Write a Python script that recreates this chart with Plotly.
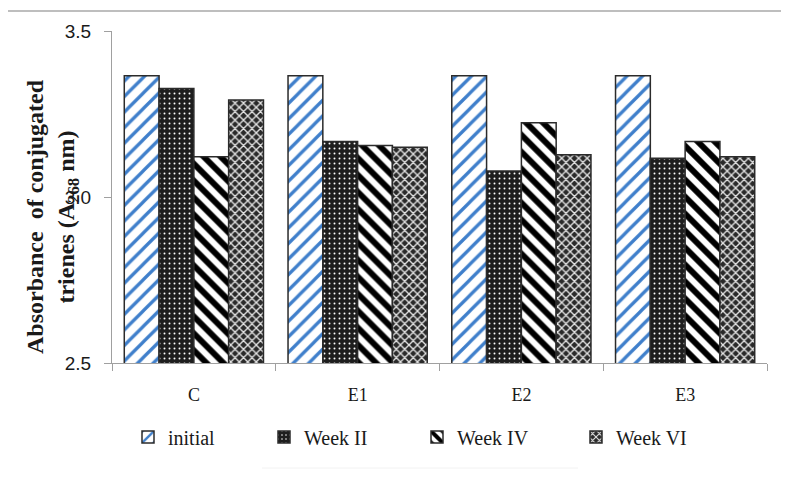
import plotly.graph_objects as go

categories = ["C", "E1", "E2", "E3"]
initial = [3.365, 3.365, 3.365, 3.365]
week_ii = [3.327, 3.167, 3.078, 3.117]
week_iv = [3.121, 3.155, 3.224, 3.167]
week_vi = [3.292, 3.150, 3.127, 3.121]
series_names = ["initial", "Week II", "Week IV", "Week VI"]
y_ticks = [2.5, 3.0, 3.5]

# page body adds an 8px offset; work in reference pixel coords and shift
OFF = 8
W, H = 789, 478
L, R, T, B = 112 - OFF, 22 + OFF, 31 - OFF, 115 + OFF
pw, ph = W - L - R, H - T - B


def px(x):
    return (x - OFF - L) / pw


def py(y):
    return (H - B - (y - OFF)) / ph


line = dict(color="#2b2b2b", width=1.5)
patterns = [
    dict(shape="/", fgcolor="#3f7fcb", bgcolor="white", size=11, solidity=0.3, fillmode="replace"),
    dict(shape=".", fgcolor="white", bgcolor="#1e1e1e", size=5, solidity=0.12, fillmode="replace"),
    dict(shape="\\", fgcolor="black", bgcolor="white", size=12, solidity=0.5, fillmode="replace"),
    dict(shape="x", fgcolor="#e4e4e4", bgcolor="#2a2a2a", size=6, solidity=0.4, fillmode="replace"),
]
values = [initial, week_ii, week_iv, week_vi]

fig = go.Figure()
legend_ids = ["legend2", "legend3", "legend4", "legend5"]
for name, vals, pat, lid in zip(series_names, values, patterns, legend_ids):
    fig.add_trace(go.Bar(
        x=categories, y=vals, name=name,
        marker=dict(color="white", pattern=pat, line=line),
        legend=lid,
    ))

legend_text_x = [168, 304, 457, 616]
leg_font = dict(family="Liberation Serif", size=20, color="#1a1a1a")
layout_legends = {}
for lid, tx in zip(legend_ids, legend_text_x):
    layout_legends[lid] = dict(
        x=px(tx - 40), y=py(437), xanchor="left", yanchor="middle",
        orientation="h", font=leg_font, bgcolor="rgba(0,0,0,0)",
        itemwidth=30, tracegroupgap=0,
    )

fig.update_layout(
    width=W, height=H,
    margin=dict(l=L, r=R, t=T, b=B, autoexpand=False),
    paper_bgcolor="white", plot_bgcolor="white",
    barmode="group", bargap=0.15, bargroupgap=0,
    showlegend=True,
    **layout_legends,
    xaxis=dict(
        showline=True, linecolor="#a0a0a0", linewidth=1.3,
        ticks="outside", tickson="boundaries", ticklen=7, tickcolor="#a0a0a0",
        tickfont=dict(family="Liberation Serif", size=18, color="#1a1a1a"),
        ticklabelstandoff=15,
        showgrid=False, zeroline=False,
    ),
    yaxis=dict(
        range=[2.5, 3.5], tickvals=y_ticks, ticktext=[f"{v:.1f}" for v in y_ticks],
        showline=True, linecolor="#a0a0a0", linewidth=1.3,
        ticks="outside", ticklen=7, tickcolor="#a0a0a0",
        tickfont=dict(family="Liberation Sans", size=19, color="#1a1a1a"),
        ticklabelstandoff=9,
        showgrid=False, zeroline=False,
    ),
    annotations=[dict(
        text="Absorbance  of conjugated<br>trienes (A<sub>268</sub> nm)",
        x=px(52), y=py(217), xref="paper", yref="paper", textangle=-90,
        showarrow=False, xanchor="center", yanchor="middle",
        font=dict(family="Liberation Serif", size=24, color="#1a1a1a", weight="bold"),
    )],
    shapes=[
        dict(type="line", xref="paper", yref="paper", x0=px(7), x1=px(7), y0=py(11), y1=py(478),
             line=dict(color="#a8a8a8", width=1.5)),
        dict(type="line", xref="paper", yref="paper", x0=px(7), x1=px(789), y0=py(11), y1=py(11),
             line=dict(color="#a8a8a8", width=1.5)),
        dict(type="line", xref="paper", yref="paper", x0=px(262), x1=px(578), y0=py(468), y1=py(468),
             line=dict(color="#f2f2f2", width=1)),
    ],
)

fig.write_html("out.html")
